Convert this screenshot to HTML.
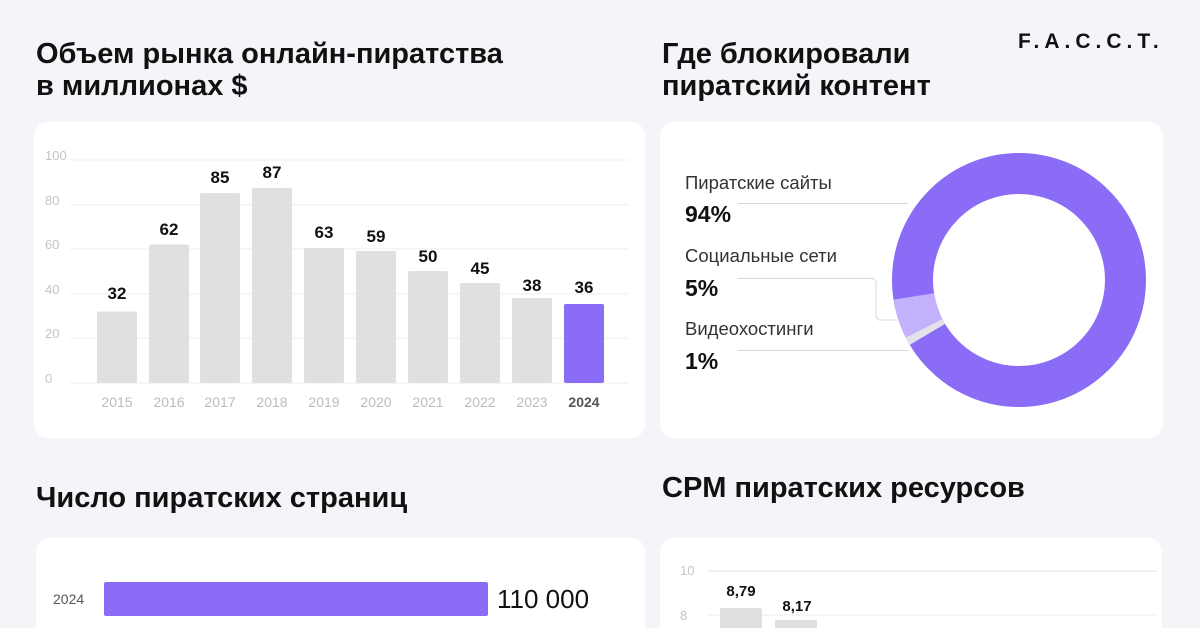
<!DOCTYPE html>
<html><head><meta charset="utf-8"><style>
*{margin:0;padding:0;box-sizing:border-box}
html,body{width:1200px;height:628px;overflow:hidden}
body{background:#f4f5f8;font-family:"Liberation Sans",sans-serif;position:relative;color:#111}
.t{position:absolute;font-weight:bold;font-size:29px;line-height:32px;color:#111;white-space:nowrap}
.card{position:absolute;background:#fff;border-radius:14px}
.a{position:absolute;white-space:nowrap}
</style></head><body>
<div class="t" style="left:36px;top:38px">Объем рынка онлайн-пиратства<br>в миллионах $</div>
<div class="t" style="left:662px;top:38px">Где блокировали<br>пиратский контент</div>
<div class="a" style="left:1018px;top:30px;font-size:21px;letter-spacing:5px;font-weight:bold;color:#111">F.A.C.C.T.</div>
<div class="card" style="left:34px;top:122px;width:611px;height:316px"></div>
<div class="card" style="left:660px;top:122px;width:503px;height:316px"></div>
<div class="t" style="left:36px;top:482px">Число пиратских страниц</div>
<div class="t" style="left:662px;top:472px">CPM пиратских ресурсов</div>
<div class="card" style="left:36px;top:538px;width:609px;height:120px"></div>
<div class="card" style="left:660px;top:538px;width:502px;height:120px"></div>
<svg width="1200" height="628" style="position:absolute;left:0;top:0" font-family="Liberation Sans, sans-serif">
<g stroke="#ececec" stroke-width="1">
<line x1="70" x2="628" y1="160" y2="160"/><line x1="70" x2="628" y1="205" y2="205"/><line x1="70" x2="628" y1="249" y2="249"/><line x1="70" x2="628" y1="294" y2="294"/><line x1="70" x2="628" y1="338" y2="338"/><line x1="70" x2="628" y1="383" y2="383"/>
</g>
<g fill="#c4c4c4" font-size="13"><text x="45" y="160">100</text><text x="45" y="205">80</text><text x="45" y="249">60</text><text x="45" y="294">40</text><text x="45" y="338">20</text><text x="45" y="383">0</text></g>
<g fill="#e0e0e0">
<rect x="97" y="311.5" width="40" height="71.5" rx="2"/>
<rect x="149" y="244.5" width="40" height="138.5" rx="2"/>
<rect x="200" y="193" width="40" height="190" rx="2"/>
<rect x="252" y="188" width="40" height="195" rx="2"/>
<rect x="304" y="248" width="40" height="135" rx="2"/>
<rect x="356" y="251" width="40" height="132" rx="2"/>
<rect x="408" y="271" width="40" height="112" rx="2"/>
<rect x="460" y="283" width="40" height="100" rx="2"/>
<rect x="512" y="298" width="40" height="85" rx="2"/>
</g>
<rect x="564" y="304" width="40" height="79" rx="2" fill="#8b6cf6"/>
<g font-size="17" font-weight="bold" text-anchor="middle" fill="#111">
<text x="117" y="299">32</text><text x="169" y="235">62</text><text x="220" y="183">85</text><text x="272" y="178">87</text><text x="324" y="238">63</text><text x="376" y="242">59</text><text x="428" y="262">50</text><text x="480" y="274">45</text><text x="532" y="291">38</text><text x="584" y="293">36</text>
</g>
<g font-size="14" text-anchor="middle" fill="#bcbcbc">
<text x="117" y="407">2015</text><text x="169" y="407">2016</text><text x="220" y="407">2017</text><text x="272" y="407">2018</text><text x="324" y="407">2019</text><text x="376" y="407">2020</text><text x="428" y="407">2021</text><text x="480" y="407">2022</text><text x="532" y="407">2023</text><text x="584" y="407" font-weight="bold" fill="#555">2024</text>
</g>
<circle cx="1019" cy="280" r="106.5" fill="none" stroke="#8b6cf6" stroke-width="41"/>
<circle cx="1019" cy="280" r="106.5" fill="none" stroke="#c3b2fb" stroke-width="41" stroke-dasharray="33.5 700" stroke-dashoffset="-284.4"/>
<circle cx="1019" cy="280" r="106.5" fill="none" stroke="#e2e2e8" stroke-width="41" stroke-dasharray="7 700" stroke-dashoffset="-277.4"/>
<g fill="none" stroke="#d8d8d8" stroke-width="1">
<line x1="738" x2="908" y1="203.5" y2="203.5"/>
<polyline points="738,278.5 873,278.5 876,281 876,317 879,320 897,320"/>
<line x1="738" x2="908" y1="350.5" y2="350.5"/>
</g>
<g fill="#333" font-size="18.5"><text x="685" y="189">Пиратские сайты</text><text x="685" y="262">Социальные сети</text><text x="685" y="335">Видеохостинги</text></g>
<g fill="#111" font-size="23" font-weight="bold"><text x="685" y="222">94%</text><text x="685" y="296">5%</text><text x="685" y="369">1%</text></g>
<text x="53" y="604" font-size="14" fill="#555">2024</text>
<rect x="104" y="582" width="384" height="34" rx="2" fill="#8b6cf6"/>
<text x="497" y="608" font-size="26" fill="#111">110 000</text>
<line x1="708" x2="1158" y1="571" y2="571" stroke="#e4e4e4"/>
<line x1="708" x2="1158" y1="615" y2="615" stroke="#eeeeee"/>
<text x="680" y="575" font-size="13" fill="#c4c4c4">10</text>
<text x="680" y="620" font-size="13" fill="#c4c4c4">8</text>
<rect x="720" y="608" width="42" height="30" rx="2" fill="#e0e0e0"/>
<rect x="775" y="620" width="42" height="20" rx="2" fill="#e0e0e0"/>
<g font-size="15" font-weight="bold" text-anchor="middle" fill="#111"><text x="741" y="596">8,79</text><text x="797" y="611">8,17</text></g>
</svg>
</body></html>
